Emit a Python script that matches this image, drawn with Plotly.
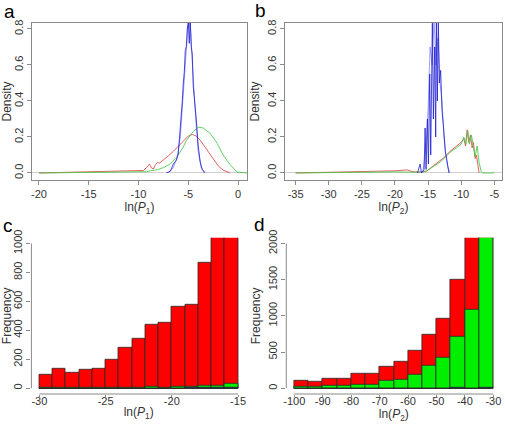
import numpy as np
import plotly.graph_objects as go

# ---------------- data ----------------
# panel a: density curves of ln(P1)
a_red_x = [-20, -18, -16, -14, -12, -10, -9.5, -9.2, -8.9, -8.7, -8.5, -8.3, -8.1, -7.9, -7.5, -7.0, -6.5, -6.0, -5.5, -5.0, -4.6, -4.2, -3.8, -3.4, -3.0, -2.5, -2.0, -1.5, -1.0, -0.8]
a_red_y = [0.0, 0.002, 0.004, 0.006, 0.01, 0.012, 0.014, 0.03, 0.05, 0.028, 0.022, 0.045, 0.058, 0.055, 0.072, 0.095, 0.12, 0.15, 0.18, 0.205, 0.214, 0.205, 0.182, 0.15, 0.115, 0.075, 0.04, 0.016, 0.003, 0.0]
a_green_x = [-20, -16, -12, -10, -9.2, -8.8, -8.1, -7.5, -6.8, -6.0, -5.5, -5.2, -4.5, -4.0, -3.5, -2.8, -2.1, -1.5, -0.8, -0.1, 0.9]
a_green_y = [0.0, 0.003, 0.005, 0.006, 0.007, 0.012, 0.018, 0.03, 0.05, 0.1, 0.145, 0.18, 0.23, 0.254, 0.25, 0.22, 0.165, 0.1, 0.046, 0.005, 0.0]
a_blue_x = [-7.2, -6.8, -6.5, -6.2, -6.0, -5.8, -5.7, -5.6, -5.5, -5.4, -5.3, -5.2, -5.1, -5.0, -4.9, -4.8, -4.7, -4.6, -4.5, -4.35, -4.2, -4.0, -3.8, -3.6, -3.3]
a_blue_y = [0.0, 0.01, 0.05, 0.07, 0.11, 0.24, 0.3, 0.4, 0.5, 0.56, 0.68, 0.7, 0.8, 0.84, 0.72, 0.85, 0.7, 0.66, 0.48, 0.4, 0.3, 0.15, 0.06, 0.02, 0.0]
a_blue2_x = [-7.0, -6.5, -6.1, -5.8, -5.6, -5.4, -5.2, -5.05, -4.9, -4.75, -4.6, -4.4, -4.2, -4.0, -3.7, -3.4]
a_blue2_y = [0.0, 0.03, 0.09, 0.2, 0.36, 0.52, 0.7, 0.8, 0.85, 0.78, 0.62, 0.42, 0.26, 0.12, 0.03, 0.0]

# panel b: density curves of ln(P2)
b_red_x = [-35, -30, -25, -22.3, -20, -18.2, -17.2, -16, -15.2, -14.2, -13.2, -12.45, -11.7, -10.7, -10.0, -9.6, -9.35, -9.1, -8.85, -8.6, -8.35, -8.15, -7.9, -7.7, -7.5, -7.3]
b_red_y = [0.0, 0.003, 0.005, 0.007, 0.012, 0.017, 0.006, 0.006, 0.01, 0.04, 0.07, 0.09, 0.12, 0.15, 0.17, 0.19, 0.15, 0.24, 0.17, 0.21, 0.14, 0.17, 0.08, 0.1, 0.03, 0.0]
b_green_x = [-35, -30, -25, -20, -17, -16, -15.2, -14.2, -13.2, -12.45, -11.7, -10.7, -10.0, -9.6, -9.3, -9.0, -8.75, -8.45, -8.2, -7.9, -7.6, -7.3, -7.0, -6.8, -5.0]
b_green_y = [0.0, 0.003, 0.004, 0.006, 0.004, 0.005, 0.012, 0.035, 0.06, 0.085, 0.115, 0.14, 0.16, 0.2, 0.16, 0.235, 0.16, 0.21, 0.15, 0.09, 0.15, 0.06, 0.01, 0.0, 0.0]
b_blue_x = [-16.6, -16.2, -16.0, -15.6, -15.45, -15.3, -15.1, -14.95, -14.75, -14.6, -14.35, -14.2, -14.0, -13.85, -13.75, -13.6, -13.45, -13.3, -13.1, -12.9, -12.7, -12.4, -12.2, -11.85]
b_blue_y = [0.0, 0.05, 0.0, 0.02, 0.25, 0.02, 0.3, 0.05, 0.55, 0.1, 0.85, 0.3, 0.7, 0.2, 0.85, 0.4, 0.85, 0.5, 0.57, 0.35, 0.27, 0.12, 0.08, 0.0]
b_blue2_x = [-15.8, -15.3, -15.0, -14.7, -14.4, -14.1, -13.8, -13.5, -13.2, -12.9, -12.6, -12.3, -12.0, -11.7]
b_blue2_y = [0.0, 0.15, 0.35, 0.7, 0.6, 0.85, 0.6, 0.75, 0.5, 0.4, 0.2, 0.09, 0.03, 0.0]

# panel c: histogram of ln(P1)
c_edges = [-30, -29, -28, -27, -26, -25, -24, -23, -22, -21, -20, -19, -18, -17, -16, -15]
c_red = [96, 138, 106, 126, 138, 200, 283, 342, 437, 455, 561, 575, 869, 1100, 1250]
c_green = [1, 2, 1, 2, 2, 3, 3, 4, 9, 7, 9, 11, 18, 18, 28]
c_blue = [0, 0, 0, 0, 0, 0, 0, 0, 0, 0, 0, 1, 4, 1, 1]

# panel d: histogram of ln(P2)
d_edges = [-100, -95, -90, -85, -80, -75, -70, -65, -60, -55, -50, -45, -40, -35, -30]
d_red = [106, 87, 129, 138, 198, 198, 299, 372, 520, 740, 965, 1503, 2300, 2400]
d_green = [23, 18, 28, 32, 46, 50, 97, 120, 184, 308, 418, 708, 1090, 2300]
d_blue = [0, 0, 0, 0, 0, 0, 0, 0, 0, 0, 0, 8, 0, 12]

# tick values
a_xticks = [-20, -15, -10, -5, 0]
b_xticks = [-35, -30, -25, -20, -15, -10, -5]
ab_yticks = [0.0, 0.2, 0.4, 0.6, 0.8]
c_xticks = [-30, -25, -20, -15]
c_yticks = [0, 200, 400, 600, 800, 1000]
d_xticks = [-100, -90, -80, -70, -60, -50, -40, -30]
d_yticks = [0, 500, 1000, 1500, 2000]

# ---------------- figure ----------------
W, H = 505, 425
RED_L = "rgba(225,70,70,0.85)"
GREEN_L = "rgba(70,200,70,0.85)"
BLUE_D = "rgba(30,30,210,0.8)"
BLUE_L = "rgba(120,120,240,0.7)"
TXT = "#333333"
FRAME = "#8a8a8a"
FONT = "Liberation Sans, Arial, sans-serif"

fig = go.Figure()

def line(x, y, color, xa, ya, w=1):
    fig.add_trace(go.Scatter(x=x, y=y, mode="lines", line=dict(color=color, width=w),
                             xaxis=xa, yaxis=ya, showlegend=False, hoverinfo="skip"))

line(a_red_x, a_red_y, RED_L, "x", "y")
line(a_green_x, a_green_y, GREEN_L, "x", "y")
line(a_blue2_x, a_blue2_y, BLUE_L, "x", "y")
line(a_blue_x, a_blue_y, BLUE_D, "x", "y")

line(b_red_x, b_red_y, RED_L, "x2", "y2")
line(b_green_x, b_green_y, GREEN_L, "x2", "y2")
line(b_blue2_x, b_blue2_y, BLUE_L, "x2", "y2")
line(b_blue_x, b_blue_y, BLUE_D, "x2", "y2")

def hist(edges, vals, color, xa, ya):
    e = np.array(edges, dtype=float)
    centers = (e[:-1] + e[1:]) / 2
    widths = np.diff(e)
    fig.add_trace(go.Bar(x=centers, y=vals, width=widths, marker=dict(color=color,
                         line=dict(color="#2a2a2a", width=0.8)),
                         xaxis=xa, yaxis=ya, showlegend=False, hoverinfo="skip"))

hist(c_edges, c_red, "#ff0000", "x3", "y3")
hist(c_edges, c_green, "#00ee00", "x3", "y3")
hist(c_edges, c_blue, "#1a3a8a", "x3", "y3")
hist(d_edges, d_red, "#ff0000", "x4", "y4")
hist(d_edges, d_green, "#00ee00", "x4", "y4")
hist(d_edges, d_blue, "#1a3a8a", "x4", "y4")

def px_dom(a, b):
    return [a / W, b / W]

def py_dom(top, bot):
    return [1 - bot / H, 1 - top / H]

tickfont = dict(family=FONT, size=11, color=TXT)
titlefont = dict(family=FONT, size=12, color=TXT)

def xax(dom, rng, ticks, title, box, anchor, lab_off=0, tlen=4):
    return dict(domain=dom, range=rng, tickvals=ticks, ticktext=[f"{t:g}" for t in ticks],
                ticks="outside", ticklen=tlen, tickcolor=FRAME, tickfont=tickfont, automargin=False,
                ticklabelstandoff=lab_off,
                showgrid=False, zeroline=False, showline=box, linecolor=FRAME, mirror=box,
                anchor=anchor, title=dict(text=title, font=titlefont, standoff=1))

def yax(dom, rng, ticks, labels, title, box, anchor):
    return dict(domain=dom, range=rng, tickvals=ticks, ticktext=labels,
                ticks="outside", ticklen=4, tickcolor=FRAME, tickfont=tickfont, tickangle=-90,
                automargin=False,
                showgrid=False, zeroline=box, zerolinecolor="#d0d0d0", zerolinewidth=1,
                showline=box, linecolor=FRAME, mirror=box, anchor=anchor,
                title=dict(text=title, font=titlefont, standoff=3))

dom_a_x = px_dom(32, 247)
dom_b_x = px_dom(285, 502)
dom_ab_y = py_dom(23, 180)
dom_c_x = px_dom(31.4, 246)
dom_d_x = px_dom(286.3, 501.3)
dom_cd_y = py_dom(237.7, 394)

fig.update_layout(
    width=W, height=H, margin=dict(l=0, r=0, t=0, b=0, autoexpand=False),
    paper_bgcolor="white", plot_bgcolor="white", barmode="overlay", bargap=0,
    font=dict(family=FONT, color=TXT),
    xaxis=xax(dom_a_x, [-20.7, 0.9], a_xticks, "ln(<i>P</i><sub>1</sub>)", True, "y"),
    yaxis=yax(dom_ab_y, [-0.039, 0.833], ab_yticks, [f"{v:.1f}" for v in ab_yticks], "Density", True, "x"),
    xaxis2=xax(dom_b_x, [-36.6, -3.84], b_xticks, "ln(<i>P</i><sub>2</sub>)", True, "y2"),
    yaxis2=yax(dom_ab_y, [-0.039, 0.833], ab_yticks, [f"{v:.1f}" for v in ab_yticks], "Density", True, "x2"),
    xaxis3=xax(dom_c_x, [-30.6, -14.4], c_xticks, "ln(<i>P</i><sub>1</sub>)", False, "y3", -5, 2),
    yaxis3=yax(dom_cd_y, [-40, 1040], c_yticks, [str(v) for v in c_yticks], "Frequency", False, "x3"),
    xaxis4=xax(dom_d_x, [-102.8, -27.2], d_xticks, "ln(<i>P</i><sub>2</sub>)", False, "y4", -5, 2),
    yaxis4=yax(dom_cd_y, [-80, 2080], d_yticks, [str(v) for v in d_yticks], "Frequency", False, "x4"),
)

# R-style axis lines for the histograms (spanning first to last tick)
for xa, ya, xt, yt in [("x3", "y3", c_xticks, c_yticks), ("x4", "y4", d_xticks, d_yticks)]:
    fig.add_shape(type="line", xref=xa, yref=f"{ya} domain", x0=xt[0], x1=xt[-1], y0=0, y1=0,
                  line=dict(color=FRAME, width=1))
    fig.add_shape(type="line", xref=f"{xa} domain", yref=ya, x0=0, x1=0, y0=yt[0], y1=yt[-1],
                  line=dict(color=FRAME, width=1))

# panel letters
for txt, x, y in [("a", 9, 12), ("b", 260, 11), ("c", 8, 225), ("d", 259, 224)]:
    fig.add_annotation(text=txt, x=x / W, y=1 - y / H, xref="paper", yref="paper",
                       showarrow=False, xanchor="center", yanchor="middle",
                       font=dict(family=FONT, size=19, color="black"))

fig.write_html("out.html", config={"displayModeBar": False},
               post_script="document.body.style.margin='0px';document.body.style.overflow='hidden';")
